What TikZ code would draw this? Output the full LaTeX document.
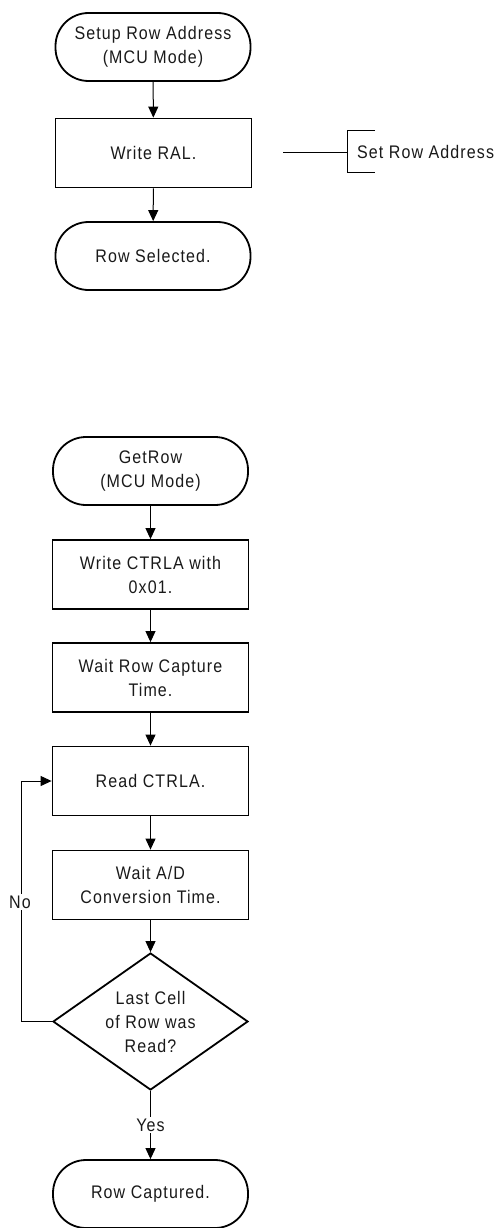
\documentclass[tikz,border=0pt]{standalone}
\usepackage{fontspec}
\setmainfont{Liberation Sans}[FakeStretch=0.88,LetterSpace=6]
\usetikzlibrary{arrows.meta,shapes.geometric}
\begin{document}
\begin{tikzpicture}[x=1pt,y=-1pt,
  txt/.style={font=\fontsize{18.2}{24}\selectfont, align=center, text=black!90},
  term/.style={txt, draw, line width=1.8pt, rounded corners=33pt, minimum width=195pt, minimum height=68pt, inner sep=0pt},
  proc/.style={txt, draw, line width=1.8pt, minimum width=196pt, minimum height=69pt, inner sep=0pt},
  dec/.style={txt, draw, diamond, line width=1.8pt, aspect=1.42, minimum width=195pt, minimum height=137pt, inner sep=0pt},
  conn/.style={line width=1pt, -{Triangle[length=11pt,width=10pt]}},
  plain/.style={line width=1pt},
  lbl/.style={txt, fill=white, inner sep=2pt}]
\useasboundingbox (0,0) rectangle (497,1228);

% top flow
\node[term] (t1) at (153,47) {Setup Row Address\\(MCU Mode)};
\node[proc] (b1) at (153.5,153) {Write RAL.};
\node[term] (t2) at (153,256) {Row Selected.};
\draw[conn] (t1) -- (b1);
\draw[conn] (b1) -- (t2);

% annotation
\node[txt, anchor=west, inner sep=0pt] (sra) at (357,152) {Set Row Address};
\coordinate (sral) at (283,152);
\coordinate (brk) at (347,152);
\draw[plain] (sral) -- (brk);
\draw[plain] (375,131) -- (347,131) -- (347,172) -- (375,172);

% bottom flow
\node[term] (t3) at (150.5,471) {GetRow\\(MCU Mode)};
\node[proc] (b2) at (150.5,574.5) {Write CTRLA with\\0x01.};
\node[proc] (b3) at (150.5,677.5) {Wait Row Capture\\Time.};
\node[proc] (b4) at (150.5,781) {Read CTRLA.};
\node[proc] (b5) at (150.5,885) {Wait A/D\\Conversion Time.};
\node[dec] (d) at (150.5,1021.5) {Last Cell\\of Row was\\Read?};
\node[term] (t4) at (150.5,1194) {Row Captured.};

\draw[conn] (t3) -- (b2);
\draw[conn] (b2) -- (b3);
\draw[conn] (b3) -- (b4);
\draw[conn] (b4) -- (b5);
\draw[conn] (b5) -- (d);
\draw[conn] (d.south) -- (t4.north);
\coordinate (lb) at (21,1021.5);
\coordinate (lt) at (21,781);
\draw[conn] (d.west) -- (lb) -- (lt) -- (b4.west);
\node[lbl] (no) at (20,902) {No};
\node[lbl] (yes) at (150.5,1125) {Yes};
\end{tikzpicture}
\end{document}
